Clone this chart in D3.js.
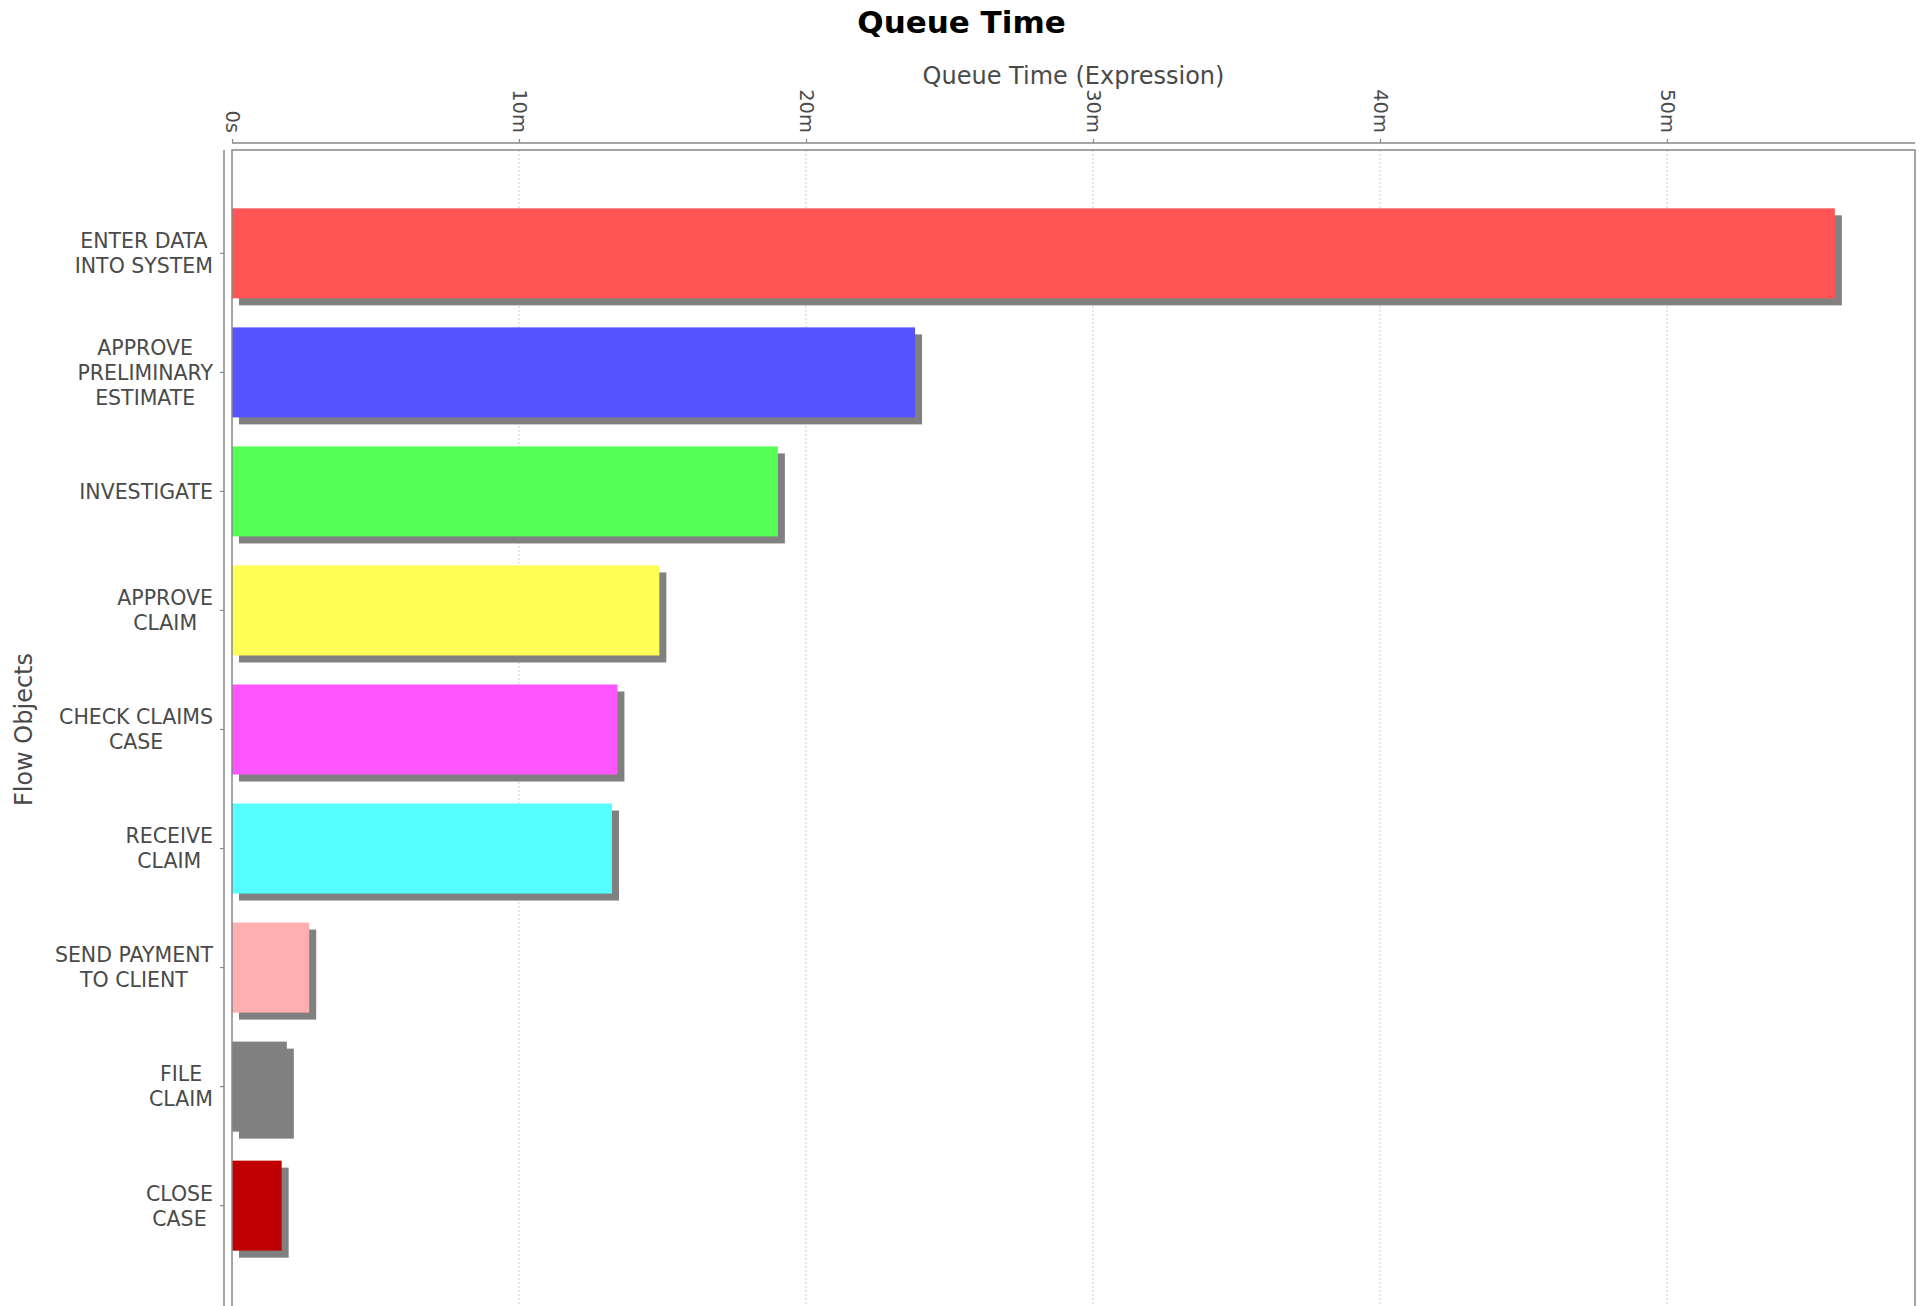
<!DOCTYPE html>
<html>
<head>
<meta charset="utf-8">
<script src="https://cdn.jsdelivr.net/npm/d3@7"></script>
<style>
  html, body { margin: 0; padding: 0; background: #ffffff; }
  svg { display: block; font-family: "DejaVu Sans", sans-serif; }
</style>
</head>
<body>
<svg id="chart" width="1923" height="1306"></svg>
<script>
// Flow objects, one label line per array entry
const categoryLines = [
  ["ENTER DATA", "INTO SYSTEM"],
  ["APPROVE", "PRELIMINARY", "ESTIMATE"],
  ["INVESTIGATE"],
  ["APPROVE", "CLAIM"],
  ["CHECK CLAIMS", "CASE"],
  ["RECEIVE", "CLAIM"],
  ["SEND PAYMENT", "TO CLIENT"],
  ["FILE", "CLAIM"],
  ["CLOSE", "CASE"]
];
const categories = categoryLines.map(l => l.join(" "));

// Queue time per flow object, in minutes
const queueMinutes = [55.85, 23.80, 19.02, 14.89, 13.43, 13.24, 2.69, 1.91, 1.73];

const barColors = ["#FF5555", "#5555FF", "#55FF55", "#FFFF55", "#FF55FF",
                   "#55FFFF", "#FFAFAF", "#808080", "#C00000"];

const tickValues = [0, 10, 20, 30, 40, 50];
const tickLabels = ["0s", "10m", "20m", "30m", "40m", "50m"];

const svg = d3.select("#chart");
const W = 1923;

const plot = { left: 232, right: 1915, top: 150, bottom: 1309 };
const shadowOffset = 7;
const textColor = "#4a4a4a";
const lineColor = "#888888";

const x = d3.scaleLinear()
  .domain([0, d3.max(queueMinutes) * 1.05])
  .range([plot.left, plot.right]);

const y = d3.scaleBand()
  .domain(categories)
  .range([plot.top, plot.bottom])
  .paddingInner(0.2437)
  .paddingOuter(0.49);

// Title
svg.append("text")
  .attr("x", W / 2).attr("y", 33)
  .attr("text-anchor", "middle")
  .attr("font-size", 31).attr("font-weight", "bold")
  .attr("fill", "#000")
  .text("Queue Time");

// Value axis label
svg.append("text")
  .attr("x", (plot.left + plot.right) / 2).attr("y", 84)
  .attr("text-anchor", "middle")
  .attr("font-size", 24)
  .attr("fill", textColor)
  .text("Queue Time (Expression)");

// Category axis label
svg.append("text")
  .attr("transform", `translate(32, ${(plot.top + plot.bottom) / 2}) rotate(-90)`)
  .attr("text-anchor", "middle")
  .attr("font-size", 24)
  .attr("fill", textColor)
  .text("Flow Objects");

// Dashed gridlines
svg.append("g")
  .selectAll("line")
  .data(tickValues.filter(v => v > 0))
  .join("line")
  .attr("x1", d => x(d)).attr("x2", d => x(d))
  .attr("y1", plot.top).attr("y2", plot.bottom)
  .attr("stroke", "#cfcfcf")
  .attr("stroke-width", 1)
  .attr("stroke-dasharray", "2,2");

// Top value axis
const xAxisY = 143;
const xAxis = d3.axisTop(x)
  .tickValues(tickValues)
  .tickFormat((d, i) => tickLabels[i])
  .tickSize(4)
  .tickSizeOuter(0);

const gx = svg.append("g")
  .attr("transform", `translate(0, ${xAxisY})`)
  .call(xAxis);
gx.select(".domain")
  .attr("d", `M${plot.left},0H${plot.right}`)
  .attr("stroke", lineColor).attr("stroke-width", 1.5);
gx.selectAll(".tick line").attr("stroke", lineColor).attr("stroke-width", 1.2);
gx.selectAll(".tick text")
  .attr("font-family", "DejaVu Sans, sans-serif")
  .attr("font-size", 19.5)
  .attr("fill", textColor)
  .attr("text-anchor", "end")
  .attr("transform", "translate(0, -10) rotate(90)")
  .attr("x", 0).attr("y", 0)
  .attr("dy", "0.35em");

// Left category axis line and ticks
const yAxisX = 224;
svg.append("line")
  .attr("x1", yAxisX).attr("x2", yAxisX)
  .attr("y1", plot.top).attr("y2", plot.bottom)
  .attr("stroke", lineColor).attr("stroke-width", 1.5);

svg.append("g")
  .selectAll("line")
  .data(categories)
  .join("line")
  .attr("x1", yAxisX - 4).attr("x2", yAxisX)
  .attr("y1", d => y(d) + y.bandwidth() / 2)
  .attr("y2", d => y(d) + y.bandwidth() / 2)
  .attr("stroke", lineColor).attr("stroke-width", 1.2);

// Category labels: block right-aligned, lines centred within the block
const labelRight = 213;
const lineGap = 25;
const labelG = svg.append("g")
  .attr("font-size", 20.5)
  .attr("fill", textColor);

categoryLines.forEach((lines, i) => {
  const cy = y(categories[i]) + y.bandwidth() / 2;
  const g = labelG.append("g");
  const texts = g.selectAll("text")
    .data(lines)
    .join("text")
    .attr("text-anchor", "middle")
    .attr("y", (d, j) => cy + (j - (lines.length - 1) / 2) * lineGap)
    .attr("dy", "0.36em")
    .text(d => d);
  let maxW = 0;
  texts.each(function () { maxW = Math.max(maxW, this.getComputedTextLength()); });
  texts.attr("x", labelRight - maxW / 2);
});

// Bar shadows
svg.append("g")
  .selectAll("rect")
  .data(queueMinutes)
  .join("rect")
  .attr("x", x(0) + shadowOffset)
  .attr("y", (d, i) => y(categories[i]) + shadowOffset)
  .attr("width", d => x(d) - x(0))
  .attr("height", y.bandwidth())
  .attr("fill", "#808080");

// Bars
svg.append("g")
  .selectAll("rect")
  .data(queueMinutes)
  .join("rect")
  .attr("x", x(0))
  .attr("y", (d, i) => y(categories[i]))
  .attr("width", d => x(d) - x(0))
  .attr("height", y.bandwidth())
  .attr("fill", (d, i) => barColors[i]);

// Plot outline
svg.append("rect")
  .attr("x", plot.left).attr("y", plot.top)
  .attr("width", plot.right - plot.left)
  .attr("height", plot.bottom - plot.top)
  .attr("fill", "none")
  .attr("stroke", lineColor).attr("stroke-width", 1.5);
</script>
</body>
</html>
